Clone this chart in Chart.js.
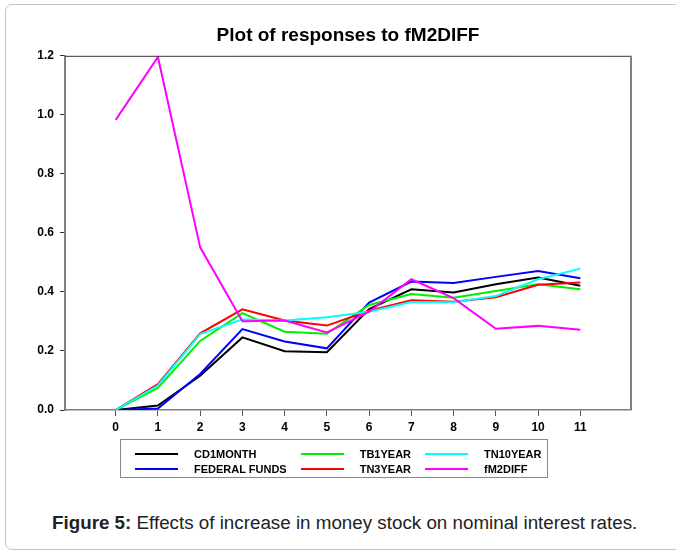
<!DOCTYPE html>
<html>
<head>
<meta charset="utf-8">
<script src="https://cdn.jsdelivr.net/npm/chart.js@4.4.1/dist/chart.umd.min.js"></script>
<style>
  body { margin: 0; background: #fff; font-family: "Liberation Sans", Arial, sans-serif; }
  #wrap { position: relative; width: 676px; height: 551px; overflow: hidden; }
  #card { position: absolute; left: 5px; top: 4px; width: 720px; height: 544px;
          border: 1px solid #c4c4c4; border-radius: 7px; }
  #chart { position: absolute; left: 0; top: 0; }
  #legend { position: absolute; left: 120px; top: 439px; width: 428px; height: 39px;
            border: 1.5px solid #8a8a8a;
            display: grid; grid-template-rows: 15px 15px; grid-auto-flow: column;
            grid-auto-columns: max-content; column-gap: 14px; padding: 6px 0 0 14px; box-sizing: border-box; }
  .item { display: flex; align-items: center; font-weight: bold; font-size: 11px; color: #000; }
  .swatch { width: 43px; height: 2px; margin-right: 16px; }
  #caption { position: absolute; left: 52px; top: 512px; font-size: 18.8px; color: #222; white-space: nowrap; }
</style>
</head>
<body>
<div id="wrap">
  <div id="card"></div>
  <canvas id="chart" width="676" height="440"></canvas>
  <div id="legend"></div>
  <div id="caption"><b>Figure 5:</b> Effects of increase in money stock on nominal interest rates.</div>
</div>
<script>
// horizon steps and y tick values
const steps = [0, 1, 2, 3, 4, 5, 6, 7, 8, 9, 10, 11];
const yTicks = [0, 0.2, 0.4, 0.6, 0.8, 1.0, 1.2];

// responses
const cd1month     = [0, 0.015, 0.116, 0.246, 0.199, 0.196, 0.342, 0.409, 0.398, 0.426, 0.449, 0.421];
const federalFunds = [0, 0.005, 0.122, 0.274, 0.232, 0.209, 0.364, 0.435, 0.430, 0.451, 0.471, 0.446];
const tb1year      = [0, 0.075, 0.234, 0.328, 0.265, 0.258, 0.356, 0.393, 0.380, 0.403, 0.426, 0.409];
const tn3year      = [0, 0.088, 0.260, 0.341, 0.303, 0.286, 0.336, 0.372, 0.367, 0.382, 0.424, 0.432];
const tn10year     = [0, 0.083, 0.257, 0.307, 0.303, 0.314, 0.333, 0.366, 0.365, 0.386, 0.443, 0.479];
const fm2diff      = [0.983, 1.196, 0.551, 0.301, 0.303, 0.263, 0.333, 0.443, 0.379, 0.275, 0.285, 0.272];

const seriesNames = ['CD1MONTH', 'FEDERAL FUNDS', 'TB1YEAR', 'TN3YEAR', 'TN10YEAR', 'fM2DIFF'];
const seriesValues = [cd1month, federalFunds, tb1year, tn3year, tn10year, fm2diff];
const seriesColors = ['#000000', '#0000ff', '#00ee00', '#ff0000', '#00ffff', '#ff00ff'];

const FONT = '"Liberation Sans", Arial, sans-serif';

// legend (column-major like the original)
const legendEl = document.getElementById('legend');
seriesNames.forEach((name, i) => {
    const item = document.createElement('div');
    item.className = 'item';
    item.innerHTML = `<span class="swatch" style="background:${seriesColors[i]}"></span><span>${name}</span>`;
    legendEl.appendChild(item);
});

// top and right frame lines
const framePlugin = {
    id: 'frame',
    afterDraw(chart) {
        const { ctx, chartArea: a } = chart;
        ctx.save();
        ctx.strokeStyle = '#333';
        ctx.lineWidth = 1;
        ctx.beginPath();
        ctx.moveTo(a.left, a.top + 0.5);
        ctx.lineTo(a.right, a.top + 0.5);
        ctx.stroke();
        ctx.strokeStyle = '#808080';
        ctx.lineWidth = 2;
        ctx.beginPath();
        ctx.moveTo(a.right, a.top);
        ctx.lineTo(a.right, a.bottom);
        ctx.stroke();
        ctx.restore();
    }
};

new Chart(document.getElementById('chart'), {
    type: 'line',
    data: {
        datasets: seriesNames.map((name, i) => ({
            label: name,
            data: seriesValues[i].map((v, k) => ({ x: steps[k], y: v })),
            borderColor: seriesColors[i],
            borderWidth: 2,
            pointRadius: 0,
            tension: 0,
            fill: false,
            order: seriesNames.length - i
        }))
    },
    options: {
        responsive: false,
        animation: false,
        layout: { padding: { top: 24, left: 0, right: 45, bottom: 0 } },
        plugins: {
            legend: { display: false },
            tooltip: { enabled: false },
            title: {
                display: true,
                text: 'Plot of responses to fM2DIFF',
                fullSize: false,
                color: '#000',
                font: { family: FONT, size: 19, weight: 'bold' },
                padding: { top: 0, bottom: 9 }
            }
        },
        scales: {
            x: {
                type: 'linear',
                min: -1.2,
                max: 12.2,
                afterBuildTicks: s => { s.ticks = steps.map(v => ({ value: v })); },
                afterFit: s => { s.height = 30; },
                ticks: {
                    color: '#000',
                    padding: 4,
                    font: { family: FONT, size: 12, weight: 'bold' },
                    callback: v => v
                },
                grid: { drawOnChartArea: false, drawTicks: true, tickLength: 6, color: '#555' },
                border: { display: true, color: '#808080', width: 1.5 }
            },
            y: {
                min: 0,
                max: 1.2,
                afterBuildTicks: s => { s.ticks = yTicks.map(v => ({ value: v })); },
                afterFit: s => { s.width = 65; },
                ticks: {
                    color: '#000',
                    padding: 6,
                    font: { family: FONT, size: 12, weight: 'bold' },
                    callback: v => v.toFixed(1)
                },
                grid: { drawOnChartArea: false, drawTicks: true, tickLength: 5, color: '#333' },
                border: { display: true, color: '#808080', width: 2 }
            }
        }
    },
    plugins: [framePlugin]
});
</script>
</body>
</html>
